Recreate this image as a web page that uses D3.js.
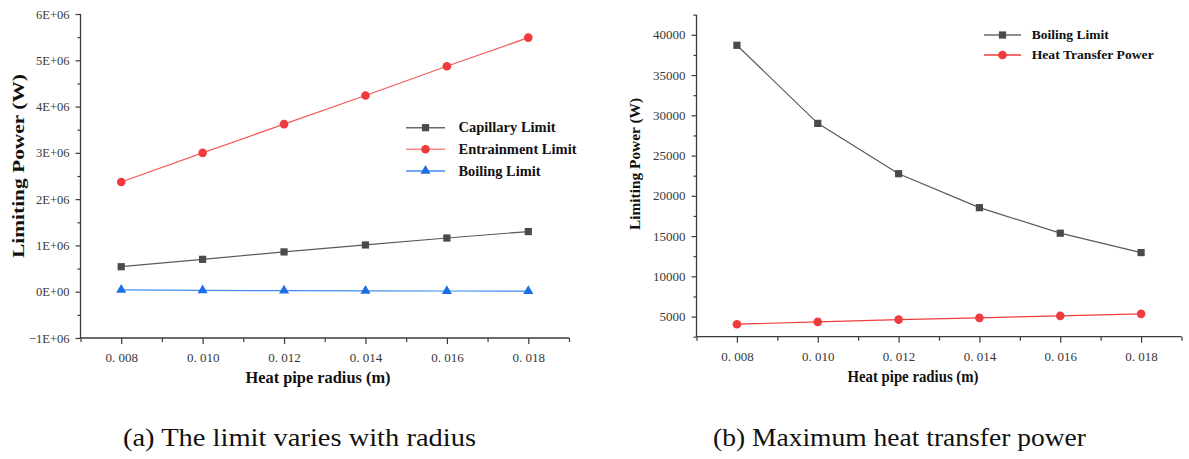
<!DOCTYPE html>
<html>
<head>
<meta charset="utf-8">
<script src="https://cdn.jsdelivr.net/npm/d3@7"></script>
<style>
  html, body { margin: 0; padding: 0; background: #fff; }
  svg { display: block; }
  text { font-family: "Liberation Serif", "Times New Roman", serif; }
</style>
</head>
<body>
<svg id="fig" width="1189" height="459"></svg>
<script>
// Heat pipe radius (m)
const radius = [0.008, 0.010, 0.012, 0.014, 0.016, 0.018];

// Panel (a): operating limits, W
const capillaryLimit   = [0.54e6, 0.70e6, 0.86e6, 1.01e6, 1.16e6, 1.30e6];
const entrainmentLimit = [2.37e6, 3.00e6, 3.62e6, 4.24e6, 4.87e6, 5.49e6];
// Panel (b): boiling limit and maximum heat transfer power, W
const boilingLimit      = [38700, 29000, 22750, 18530, 15360, 12950];
const heatTransferPower = [4050, 4340, 4620, 4840, 5090, 5340];

// Tick values and labels
const xTicks      = [0.008, 0.010, 0.012, 0.014, 0.016, 0.018];
const xTickLabels = ["0. 008", "0. 010", "0. 012", "0. 014", "0. 016", "0. 018"];
const xMinorTicks = [0.007, 0.009, 0.011, 0.013, 0.015, 0.017, 0.019];
const yTicksA      = [-1e6, 0, 1e6, 2e6, 3e6, 4e6, 5e6, 6e6];
const yTickLabelsA = ["\u22121E+06", "0E+00", "1E+06", "2E+06", "3E+06", "4E+06", "5E+06", "6E+06"];
const yMinorTicksA = [-0.5e6, 0.5e6, 1.5e6, 2.5e6, 3.5e6, 4.5e6, 5.5e6];
const yTicksB      = [5000, 10000, 15000, 20000, 25000, 30000, 35000, 40000];
const yTickLabelsB = ["5000", "10000", "15000", "20000", "25000", "30000", "35000", "40000"];
const yMinorTicksB = [2500, 7500, 12500, 17500, 22500, 27500, 32500, 37500, 42500];

const svg = d3.select("#fig");
const AXIS = "#3a3a3a";

const STYLES = {
  gray: { line: "#5a5a5a", mark: "#4a4a4a", legendLine: "#6a6a6a", symbol: d3.symbolSquare, size: 52 },
  red:  { line: "#f45a5a", mark: "#ef3b3d", legendLine: "#f58a8a", symbol: d3.symbolCircle, size: 58 },
  redB: { line: "#f03c3c", mark: "#ef3b3d", legendLine: "#f03c3c", symbol: d3.symbolCircle, size: 58 },
  blue: { line: "#3f8df0", mark: "#1b6fe3", legendLine: "#3f8df0", symbol: d3.symbolTriangle, size: 44 }
};

function panel(cfg) {
  const g = svg.append("g");
  const x = d3.scaleLinear().domain([0.007, 0.019]).range(cfg.xRange);
  const y = d3.scaleLinear().domain(cfg.yDomain).range(cfg.yRange);
  const x0 = cfg.xRange[0], yBase = cfg.yRange[0];

  // minor ticks
  g.append("g").attr("transform", `translate(0,${yBase})`)
    .call(d3.axisBottom(x).tickValues(xMinorTicks).tickFormat("").tickSize(4).tickSizeOuter(0));
  g.append("g").attr("transform", `translate(${x0},0)`)
    .call(d3.axisLeft(y).tickValues(cfg.yMinor).tickFormat("").tickSize(3).tickSizeOuter(0));

  // major ticks with labels
  const xa = g.append("g").attr("transform", `translate(0,${yBase})`)
    .call(d3.axisBottom(x).tickValues(xTicks).tickFormat((d, i) => xTickLabels[i])
      .tickSize(6).tickPadding(9).tickSizeOuter(0));
  xa.selectAll("text").attr("font-size", 13).attr("fill", "#383838");
  const ya = g.append("g").attr("transform", `translate(${x0},0)`)
    .call(d3.axisLeft(y).tickValues(cfg.yTicks).tickFormat((d, i) => cfg.yLabels[i])
      .tickSize(5).tickPadding(6).tickSizeOuter(0));
  ya.selectAll("text").attr("font-size", cfg.yFont).attr("fill", "#383838");

  g.selectAll(".domain").remove();
  g.selectAll(".tick line").attr("stroke", AXIS).attr("stroke-width", 1.2);
  g.append("line").attr("x1", x0).attr("x2", x0)
    .attr("y1", cfg.yRange[1]).attr("y2", yBase).attr("stroke", AXIS).attr("stroke-width", 1.3);
  g.append("line").attr("x1", x0).attr("x2", cfg.xRange[1])
    .attr("y1", yBase).attr("y2", yBase).attr("stroke", AXIS).attr("stroke-width", 1.3);

  // series
  cfg.series.forEach(s => {
    const st = STYLES[s.style];
    const pts = radius.map((r, i) => [x(r), y(s.values[i])]);
    g.append("path").attr("d", d3.line()(pts))
      .attr("fill", "none").attr("stroke", st.line).attr("stroke-width", 1.2);
    g.selectAll(null).data(pts).enter().append("path")
      .attr("transform", p => `translate(${p[0]},${p[1]})`)
      .attr("d", d3.symbol().type(st.symbol).size(st.size))
      .attr("fill", st.mark);
  });

  // legend
  const L = cfg.legend;
  cfg.series.forEach((s, i) => {
    const st = STYLES[s.style];
    const ly = L.y + i * L.dy;
    g.append("line").attr("x1", L.x).attr("x2", L.x + L.len)
      .attr("y1", ly).attr("y2", ly).attr("stroke", st.legendLine).attr("stroke-width", 1.5);
    g.append("path").attr("transform", `translate(${L.x + L.len / 2},${ly})`)
      .attr("d", d3.symbol().type(st.symbol).size(st.size)).attr("fill", st.mark);
    g.append("text").attr("x", L.tx).attr("y", ly + L.font * 0.33)
      .attr("font-size", L.font).attr("font-weight", "bold").attr("fill", "#111")
      .attr("textLength", s.labelWidth).attr("lengthAdjust", "spacingAndGlyphs")
      .text(s.name);
  });

  // axis titles
  g.append("text")
    .attr("transform", `translate(${cfg.yTitle.x},${cfg.yTitle.y}) rotate(-90)`)
    .attr("text-anchor", "middle").attr("font-size", cfg.yTitle.font).attr("font-weight", "bold")
    .attr("fill", "#111").attr("textLength", cfg.yTitle.len).attr("lengthAdjust", "spacingAndGlyphs")
    .text("Limiting Power (W)");
  g.append("text")
    .attr("x", cfg.xTitle.x).attr("y", cfg.xTitle.y)
    .attr("text-anchor", "middle").attr("font-size", 16).attr("font-weight", "bold")
    .attr("fill", "#111").attr("textLength", cfg.xTitle.len).attr("lengthAdjust", "spacingAndGlyphs")
    .text("Heat pipe radius (m)");

  // caption
  g.append("text")
    .attr("x", cfg.caption.x).attr("y", 446)
    .attr("font-size", 26).attr("fill", "#111")
    .attr("textLength", cfg.caption.len).attr("lengthAdjust", "spacingAndGlyphs")
    .text(cfg.caption.text);
}

panel({
  xRange: [80.5, 569],
  yDomain: [-1e6, 6e6], yRange: [338, 14],
  yTicks: yTicksA, yLabels: yTickLabelsA, yMinor: yMinorTicksA, yFont: 12.5,
  series: [
    { name: "Capillary Limit",   values: capillaryLimit,   style: "gray", labelWidth: 97 },
    { name: "Entrainment Limit", values: entrainmentLimit, style: "red",  labelWidth: 118 },
    { name: "Boiling Limit",     values: boilingLimit,     style: "blue", labelWidth: 82 }
  ],
  legend: { x: 406, len: 39, tx: 458.5, y: 127.7, dy: 21.6, font: 14.5 },
  yTitle: { x: 24, y: 166, font: 16, len: 184 },
  xTitle: { x: 318, y: 383, len: 145 },
  caption: { x: 123, len: 353, text: "(a) The limit varies with radius" }
});

panel({
  xRange: [696.5, 1181.5],
  yDomain: [2500, 42500], yRange: [336.7, 14.7],
  yTicks: yTicksB, yLabels: yTickLabelsB, yMinor: yMinorTicksB, yFont: 13,
  series: [
    { name: "Boiling Limit",       values: boilingLimit,      style: "gray", labelWidth: 77 },
    { name: "Heat Transfer Power", values: heatTransferPower, style: "redB", labelWidth: 122 }
  ],
  legend: { x: 984, len: 37, tx: 1031.7, y: 35, dy: 20, font: 13.5 },
  yTitle: { x: 640, y: 164, font: 14.5, len: 132 },
  xTitle: { x: 913, y: 382, len: 131 },
  caption: { x: 713, len: 373, text: "(b) Maximum heat transfer power" }
});
</script>
</body>
</html>
